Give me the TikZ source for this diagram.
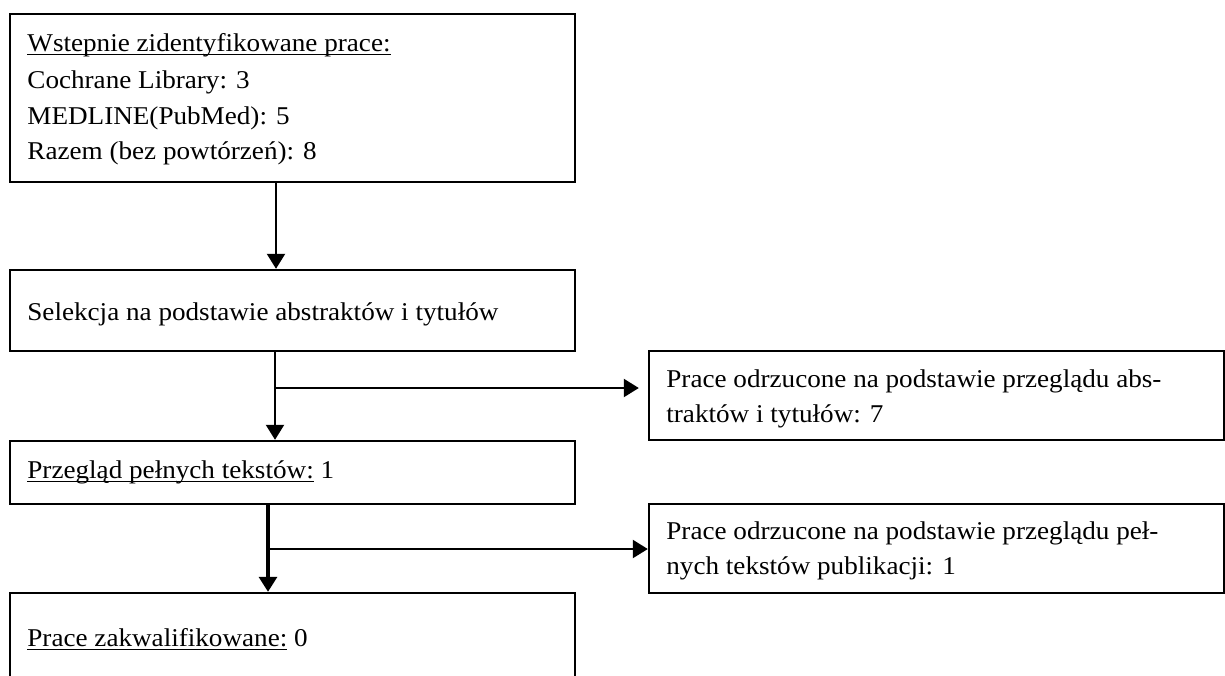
\documentclass[tikz,border=0pt]{standalone}
\usepackage{fontspec}
\setmainfont{Liberation Serif}[FakeStretch=1.06]
\usetikzlibrary{arrows.meta,fit}
\newcommand{\myul}[1]{\setbox0\hbox{#1}\rlap{\rule[-2.2pt]{\wd0}{0.75pt}}\box0\relax}
\tikzset{
  box/.style={draw=black, line width=1.2pt, inner sep=0pt, fill=white},
  txt/.style={inner sep=0pt, anchor=base west, font=\fontsize{12.8}{17.5}\selectfont, text=black},
  conn/.style={line width=1.1pt, draw=black},
  arr/.style={conn, -{Triangle[length=7.5pt,width=9pt]}},
}
\begin{document}
\begin{tikzpicture}[x=0.5pt,y=-0.5pt]
\useasboundingbox (0,0) rectangle (1225,675);
\clip (0,0) rectangle (1225,675);
% boxes
\node[box, fit={(10,14) (575,182)}] (b1) {};
\node[box, fit={(10,270) (575,351)}] (b2) {};
\node[box, fit={(10,441) (575,504)}] (b3) {};
\node[box, fit={(10,593) (575,700)}] (b4) {};
\node[box, fit={(649,351) (1224,440)}] (r1) {};
\node[box, fit={(649,504) (1224,593)}] (r2) {};
% texts
\node[txt] (t1a) at (27,51) {\myul{Wstepnie zidentyfikowane prace:}};
\node[txt] (t1b) at (27,88) {Cochrane Library: 3};
\node[txt] (t1c) at (27,124) {MEDLINE(PubMed): 5};
\node[txt] (t1d) at (27,159) {Razem (bez powtórzeń): 8};
\node[txt] (t2) at (27,320) {Selekcja na podstawie abstraktów i tytułów};
\node[txt] (t3) at (27,478) {\myul{Przegląd pełnych tekstów:} 1};
\node[txt] (t4) at (27,646) {\myul{Prace zakwalifikowane:} 0};
\node[txt] (tr1a) at (666,387) {Prace odrzucone na podstawie przeglądu abs-};
\node[txt] (tr1b) at (666,422) {traktów i tytułów: 7};
\node[txt] (tr2a) at (666,539) {Prace odrzucone na podstawie przeglądu peł-};
\node[txt] (tr2b) at (666,574) {nych tekstów publikacji: 1};
% connectors
\coordinate (x1) at (276,0);
\coordinate (j1) at (275,388);
\coordinate (j2) at (268,549);
\draw[arr] (b1.south -| x1) -- (b2.north -| x1);
\draw[arr] (b2.south -| j1) -- (b3.north -| j1);
\draw[arr, shorten >=4.5pt] (j1) -- (j1 -| r1.west);
\draw[arr, line width=1.6pt] (b3.south -| j2) -- (b4.north -| j2);
\draw[arr] (j2) -- (j2 -| r2.west);
\end{tikzpicture}
\end{document}
